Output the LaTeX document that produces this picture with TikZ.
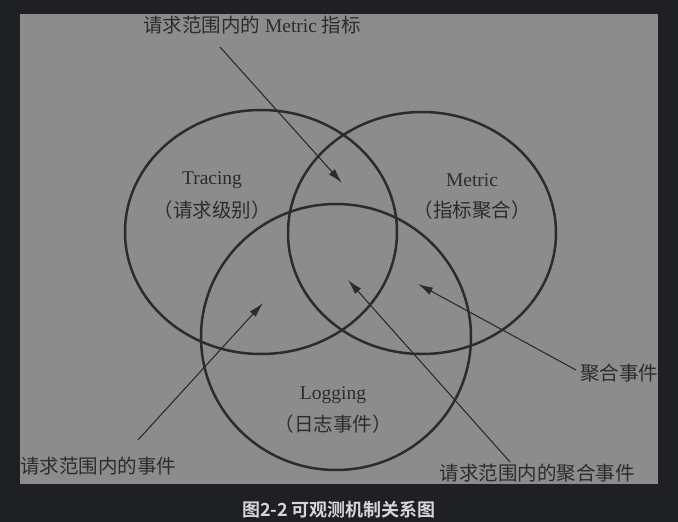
\documentclass[tikz,border=0pt]{standalone}
\usepackage{fontspec}
\setmainfont{Liberation Serif}
\newfontfamily\cjk{Noto Sans CJK SC}
\newfontfamily\cjkb{Noto Sans CJK SC Bold}
\usetikzlibrary{arrows.meta}
\definecolor{bgdark}{HTML}{1F2023}
\definecolor{panel}{HTML}{8C8C8C}
\definecolor{ink}{HTML}{2C2C2C}
\definecolor{captext}{HTML}{D6D6D6}
\tikzset{
  ring/.style={draw=ink, line width=2.5pt},
  pointer/.style={draw=ink, line width=1.1pt, -{Latex[length=15pt,width=8pt]}},
  lbl/.style={text=ink, font=\fontsize{19.5}{22}\selectfont, inner sep=0pt},
}
\begin{document}
\begin{tikzpicture}[x=1pt,y=-1pt]
\fill[bgdark] (0,0) rectangle (678,522);
\useasboundingbox (0,0) rectangle (678,522);
\fill[panel] (20,14) rectangle (658,484);
% circles
\draw[ring] (261,232) ellipse [x radius=136, y radius=122];
\draw[ring] (422,233) ellipse [x radius=134, y radius=121];
\draw[ring] (336,337) ellipse [x radius=135, y radius=133];
% texts
\node[lbl] (top) at (252,25) {{\cjk 请求范围内的} Metric {\cjk 指标}};
\node[lbl] (tracing) at (212,180) {Tracing};
\node[lbl] (tracingc) at (212,210) {\cjk （请求级别）};
\node[lbl] (metric) at (472,180) {Metric};
\node[lbl] (metricc) at (472,210) {\cjk （指标聚合）};
\node[lbl] (logging) at (333,395) {Logging};
\node[lbl] (loggingc) at (333,424) {\cjk （日志事件）};
\node[lbl, anchor=west] (ev) at (20,466) {\cjk 请求范围内的事件};
\node[lbl, anchor=west] (agg) at (580,373) {\cjk 聚合事件};
\node[lbl] (aggev) at (537,473) {\cjk 请求范围内的聚合事件};
\node[text=captext, font=\cjkb\fontsize{18}{20}\selectfont, inner sep=0pt] (cap) at (339,510) {图2-2 可观测机制关系图};
% pointer ends
\coordinate (s1) at (220,47);   \coordinate (t1) at (342,183);
\coordinate (s2) at (138,440);  \coordinate (t2) at (263,303);
\coordinate (s3) at (576,370);  \coordinate (t3) at (418,284);
\coordinate (s4) at (510,462);  \coordinate (t4) at (348,280);
\draw[pointer] (s1) -- (t1);
\draw[pointer] (s2) -- (t2);
\draw[pointer] (s3) -- (t3);
\draw[pointer] (s4) -- (t4);
\end{tikzpicture}
\end{document}
